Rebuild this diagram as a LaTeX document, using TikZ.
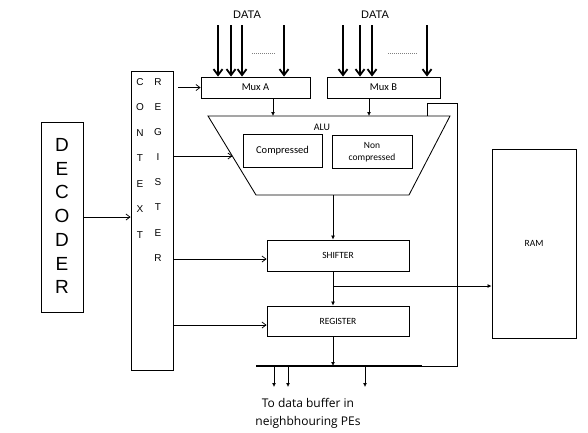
\documentclass[tikz,border=0pt]{standalone}
\usepackage{fontspec}
\setmainfont{Carlito}
\newfontfamily\arialfont{Liberation Sans}
\newfontfamily\opensans{Open Sans}
\usepackage{tikz}
\usetikzlibrary{calc, arrows.meta}

\begin{document}
\begin{tikzpicture}[x=1pt, y=-1pt, line width=0.75pt,
    box/.style={draw, line width=0.85pt, inner sep=0pt, font=\fontsize{9.5}{11}\selectfont},
    sig/.style={-{Straight Barb[length=4pt,width=6pt]}},
    flow/.style={-{Latex[length=4pt,width=4pt]}},
    datain/.style={line width=1.8pt, -{Straight Barb[length=6pt,width=9pt]}},
    letter/.style={font=\arialfont\fontsize{10}{10}\selectfont, inner sep=0pt}]
	\useasboundingbox (0,0) rectangle (588,432);
	
	% -- Mux units and data inputs --
	\node[box, minimum width=109pt, minimum height=21pt, font=\fontsize{10.5}{11}\selectfont] (muxA) at (255.5,87.5) {Mux A};
	\node[box, minimum width=113pt, minimum height=21pt, font=\fontsize{10.5}{11}\selectfont] (muxB) at (383.5,87.5) {Mux B};
	\node[font=\arialfont\fontsize{11}{11}\selectfont] (dataA) at (247,15) {DATA};
	\node[font=\arialfont\fontsize{11}{11}\selectfont] (dataB) at (375,15) {DATA};
	\foreach \x in {218,231,242,284} {
		\draw[datain] (\x,25) -- (\x,25 |- muxA.north);
	}
	\foreach \x in {343,360,372,427} {
		\draw[datain] (\x,25) -- (\x,25 |- muxB.north);
	}
	\draw[gray, dash pattern=on 1pt off 1pt] (252,53) -- (275,53);
	\draw[gray, dash pattern=on 1pt off 1pt] (388,53) -- (418,53);
	
	% -- ALU --
	\coordinate (aluTL) at (208,116);
	\coordinate (aluTR) at (450,116);
	\coordinate (aluBR) at (409,195);
	\coordinate (aluBL) at (256,195);
	\coordinate (aluIn) at (232.5,156);
	\draw[line width=0.85pt] (aluTL) -- (aluTR) -- (aluBR) -- (aluBL) -- cycle;
	\node[font=\fontsize{10}{11}\selectfont] (alu) at (322,127) {ALU};
	\node[box, minimum width=79pt, minimum height=33pt, font=\fontsize{10.5}{11}\selectfont] (comp) at (282.5,150.5) {Compressed};
	\node[box, minimum width=80pt, minimum height=33pt, align=center,
	      font=\fontsize{9.5}{12.5}\selectfont] (ncomp) at (372,152) {Non\\compressed};
	\draw[flow] (273,0 |- muxA.south) -- (273,0 |- aluTL);
	\draw[flow] (369,0 |- muxB.south) -- (369,0 |- aluTL);
	
	% -- Shifter, register and RAM --
	\node[box, minimum width=142pt, minimum height=31pt] (shifter) at (338,255.5) {SHIFTER};
	\node[box, minimum width=142pt, minimum height=30pt] (reg) at (338,321) {REGISTER};
	\node[box, minimum width=84pt, minimum height=189pt] (ram) at (534,243.5) {RAM};
	\coordinate (tap) at (333,286);
	\draw[flow] (333,0 |- aluBL) -- (333,0 |- shifter.north);
	\draw[flow] (333,0 |- shifter.south) -- (333,0 |- reg.north);
	\draw[flow] (tap) -- (tap -| ram.west);
	
	% -- Output bus and feedback --
	\coordinate (busL) at (256,366);
	\coordinate (busR) at (422,366);
	\draw[flow] (333,0 |- reg.south) -- (333,0 |- busL);
	\draw[line width=2.6pt] (busL) -- (busR);
	\foreach \x in {274,288,365} {
		\draw[flow] (\x,0 |- busL) -- (\x,387);
	}
	\draw (busR) -| (457,103) -| (427,0 |- aluTL);
	\node[font=\opensans\fontsize{12}{18}\selectfont, align=center] (note) at (308,413)
	     {To data buffer in\\neighbhouring PEs};
	
	% -- Context register --
	\node[box, minimum width=42pt, minimum height=299pt] (ctx) at (152,220.5) {};
	\foreach \l [count=\i from 0] in {C,O,N,T,E,X,T} {
		\node[letter] (ctxL\i) at (140,82+25.5*\i) {\l};
	}
	\foreach \l [count=\i from 0] in {R,E,G,I,S,T,E,R} {
		\node[letter] (ctxR\i) at (158,82+25.1*\i) {\l};
	}
	\coordinate (ctxOut) at (178,0 |- muxA.west);
	\draw[sig] (ctxOut) -- (muxA.west);
	\draw[sig] (ctx.east |- aluIn) -- (aluIn);
	\draw[sig] (ctx.east |- 0,259) -- (shifter.west |- 0,259);
	\draw[sig] (ctx.east |- 0,325) -- (reg.west |- 0,325);
	
	% -- Decoder --
	\node[box, minimum width=42pt, minimum height=190pt] (dec) at (62,217) {};
	\foreach \l [count=\i from 0] in {D,E,C,O,D,E,R} {
		\node[font=\arialfont\fontsize{19}{19}\selectfont, inner sep=0pt] (decL\i) at (62,145+23.7*\i) {\l};
	}
	\draw[sig] (dec.east) -- (ctx.west |- dec.east);
\end{tikzpicture}
\end{document}
